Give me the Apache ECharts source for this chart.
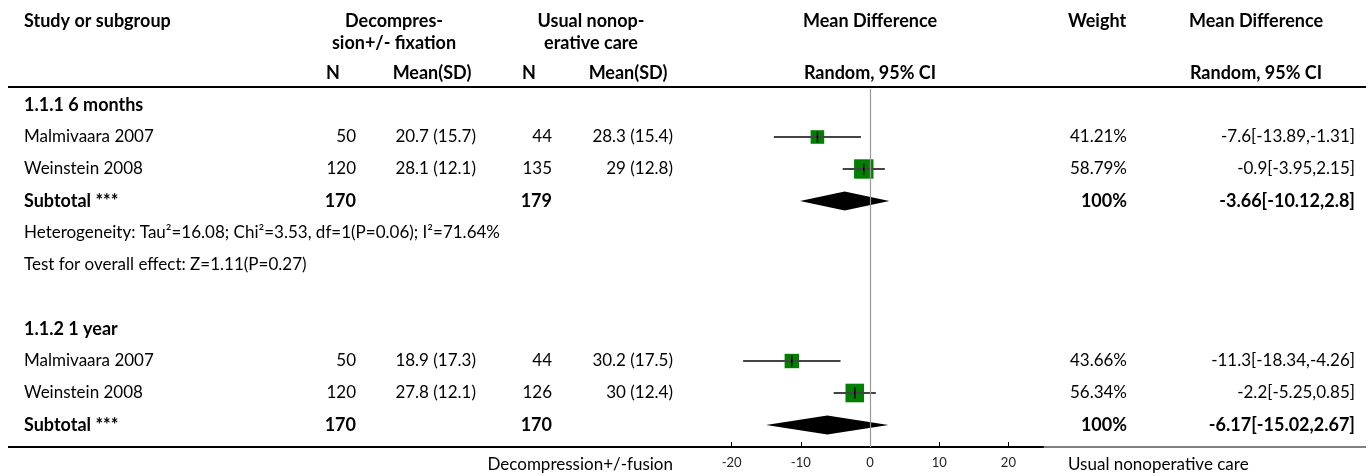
<!DOCTYPE html>
<html><head><meta charset="utf-8">
<script src="https://cdn.jsdelivr.net/npm/echarts@6/dist/echarts.min.js"></script>
<style>html,body{margin:0;padding:0;background:#fff}#c{width:1372px;height:476px}</style>
</head><body><div id="c"></div>
<script>
// ---------- data ----------
const groupTitles = ['1.1.1 6 months', '1.1.2 1 year'];
const groupTitleRows = [0, 7];
const studyNames = ['Malmivaara 2007', 'Weinstein 2008', 'Malmivaara 2007', 'Weinstein 2008'];
const studyRows = [1, 2, 8, 9];
const expN = [50, 120, 50, 120];
const expMean = [20.7, 28.1, 18.9, 27.8];
const expSD = [15.7, 12.1, 17.3, 12.1];
const ctlN = [44, 135, 44, 126];
const ctlMean = [28.3, 29, 30.2, 30];
const ctlSD = [15.4, 12.8, 17.5, 12.4];
const studyMD = [-7.6, -0.9, -11.3, -2.2];
const studyLo = [-13.89, -3.95, -18.34, -5.25];
const studyHi = [-1.31, 2.15, -4.26, 0.85];
const studyWeight = [41.21, 58.79, 43.66, 56.34];
const subtotalRows = [3, 10];
const subExpN = [170, 170];
const subCtlN = [179, 170];
const subMD = [-3.66, -6.17];
const subLo = [-10.12, -15.02];
const subHi = [2.8, 2.67];
const subWeight = [100, 100];
const noteLines = ['Heterogeneity: Tau\u00b2=16.08; Chi\u00b2=3.53, df=1(P=0.06); I\u00b2=71.64%',
                   'Test for overall effect: Z=1.11(P=0.27)'];
const noteRows = [4, 5];
const tickValues = [-20, -10, 0, 10, 20];
const leftLabel = 'Decompression+/-fusion';
const rightLabel = 'Usual nonoperative care';

// ---------- style ----------
const FF = 'Lato';
const reg = '17px ' + FF;
const bold = 'bold 18px ' + FF;
const PLOT_L = 697, PLOT_R = 1043, PLOT_T = 89, PLOT_B = 447;
const ROWS_MAX = (PLOT_B - PLOT_T) / 32 - 0.5;

const chart = echarts.init(document.getElementById('c'), null, {renderer: 'canvas'});

const studyData = studyRows.map((r, i) => [studyMD[i], r, studyLo[i], studyHi[i], studyWeight[i]]);
const subData = subtotalRows.map((r, i) => [subMD[i], r, subLo[i], subHi[i]]);

chart.setOption({
  animation: false,
  backgroundColor: '#fff',
  grid: {left: PLOT_L, right: 1372 - PLOT_R, top: PLOT_T, bottom: 476 - PLOT_B, containLabel: false},
  xAxis: {
    type: 'value', min: -25, max: 25, position: 'bottom',
    splitLine: {show: false},
    axisLine: {show: true, onZero: false, lineStyle: {color: '#000', width: 2}},
    axisTick: {show: true, inside: true, length: 5, customValues: tickValues, lineStyle: {color: '#000', width: 1}},
    axisLabel: {customValues: tickValues, color: '#222', fontSize: 13, fontFamily: FF, margin: 9}
  },
  yAxis: {type: 'value', inverse: true, min: -0.5, max: ROWS_MAX, show: false},
  series: [
    {
      type: 'custom', data: studyData, encode: {x: 0, y: 1}, silent: true, z: 3,
      renderItem: function (params, api) {
        const c = api.coord([api.value(0), api.value(1)]);
        const lo = api.coord([api.value(2), api.value(1)]);
        const hi = api.coord([api.value(3), api.value(1)]);
        const s = api.value(4) * 0.33;
        return {type: 'group', children: [
          {type: 'rect', shape: {x: c[0] - s / 2, y: c[1] - s / 2, width: s, height: s}, style: {fill: '#008000'}},
          {type: 'line', shape: {x1: lo[0], y1: c[1], x2: hi[0], y2: c[1]}, style: {stroke: '#444', lineWidth: 2}},
          {type: 'line', shape: {x1: c[0], y1: c[1] - 5.5, x2: c[0], y2: c[1] + 5.5}, style: {stroke: '#000', lineWidth: 1.5}}
        ]};
      },
      markLine: {
        silent: true, symbol: 'none', label: {show: false},
        lineStyle: {color: '#999', width: 1.2, type: 'solid'},
        data: [{xAxis: 0}]
      }
    },
    {
      type: 'custom', data: subData, encode: {x: 0, y: 1}, silent: true, z: 3,
      renderItem: function (params, api) {
        const c = api.coord([api.value(0), api.value(1)]);
        const lo = api.coord([api.value(2), api.value(1)]);
        const hi = api.coord([api.value(3), api.value(1)]);
        return {type: 'polygon', shape: {points: [[lo[0], c[1]], [c[0], c[1] - 9.5], [hi[0], c[1]], [c[0], c[1] + 9.5]]},
                style: {fill: '#000'}};
      }
    }
  ]
});

// ---------- table text ----------
function rowY(k) { return chart.convertToPixel({yAxisIndex: 0}, k); }
const g = [];
function txt(t, x, y, font, align) {
  g.push({type: 'text', silent: true, z: 10, style: {text: String(t), x: x, y: y, font: font, fill: '#000', align: align || 'left', verticalAlign: 'middle'}});
}
function hline(x1, x2, y, w) {
  g.push({type: 'line', silent: true, z: 5, shape: {x1: x1, y1: y, x2: x2, y2: y}, style: {stroke: '#000', lineWidth: w}});
}
const COL = {study: 24, expN: 356, expNc: 333, expM: 476, expMc: 432, expG: 394,
             ctlN: 552, ctlNc: 529, ctlM: 673, ctlMc: 628, ctlG: 591,
             plot: 870, wt: 1127, wtc: 1097, md: 1355, mdc: 1256};
// headers
txt('Study or subgroup', COL.study, 21, bold);
txt('Decompres-', COL.expG, 21, bold, 'center');
txt('sion+/- fixation', COL.expG, 43, bold, 'center');
txt('Usual nonop-', COL.ctlG, 21, bold, 'center');
txt('erative care', COL.ctlG, 43, bold, 'center');
txt('Mean Difference', COL.plot, 21, bold, 'center');
txt('Weight', COL.wtc, 21, bold, 'center');
txt('Mean Difference', COL.mdc, 21, bold, 'center');
txt('N', COL.expNc, 73, bold, 'center');
txt('Mean(SD)', COL.expMc, 73, bold, 'center');
txt('N', COL.ctlNc, 73, bold, 'center');
txt('Mean(SD)', COL.ctlMc, 73, bold, 'center');
txt('Random, 95% CI', COL.plot, 73, bold, 'center');
txt('Random, 95% CI', COL.mdc, 73, bold, 'center');
hline(8, 1366, 87, 2);

groupTitles.forEach((t, i) => txt(t, COL.study, rowY(groupTitleRows[i]), bold));
studyRows.forEach((r, i) => {
  const y = rowY(r);
  txt(studyNames[i], COL.study, y, reg);
  txt(expN[i], COL.expN, y, reg, 'right');
  txt(expMean[i] + ' (' + expSD[i] + ')', COL.expM, y, reg, 'right');
  txt(ctlN[i], COL.ctlN, y, reg, 'right');
  txt(ctlMean[i] + ' (' + ctlSD[i] + ')', COL.ctlM, y, reg, 'right');
  txt(studyWeight[i].toFixed(2) + '%', COL.wt, y, reg, 'right');
  txt(studyMD[i] + '[' + studyLo[i] + ',' + studyHi[i] + ']', COL.md, y, reg, 'right');
});
subtotalRows.forEach((r, i) => {
  const y = rowY(r);
  txt('Subtotal ***', COL.study, y, bold);
  txt(subExpN[i], COL.expN, y, bold, 'right');
  txt(subCtlN[i], COL.ctlN, y, bold, 'right');
  txt(subWeight[i] + '%', COL.wt, y, bold, 'right');
  txt(subMD[i] + '[' + subLo[i] + ',' + subHi[i] + ']', COL.md, y, bold, 'right');
});
noteLines.forEach((t, i) => txt(t, COL.study, rowY(noteRows[i]), reg));

// bottom rule and axis captions
hline(8, PLOT_L, PLOT_B, 2);
hline(PLOT_R, 1366, PLOT_B, 1);
txt(leftLabel, 673, 465, reg, 'right');
txt(rightLabel, 1068, 465, reg, 'left');

chart.setOption({graphic: g});
</script></body></html>
